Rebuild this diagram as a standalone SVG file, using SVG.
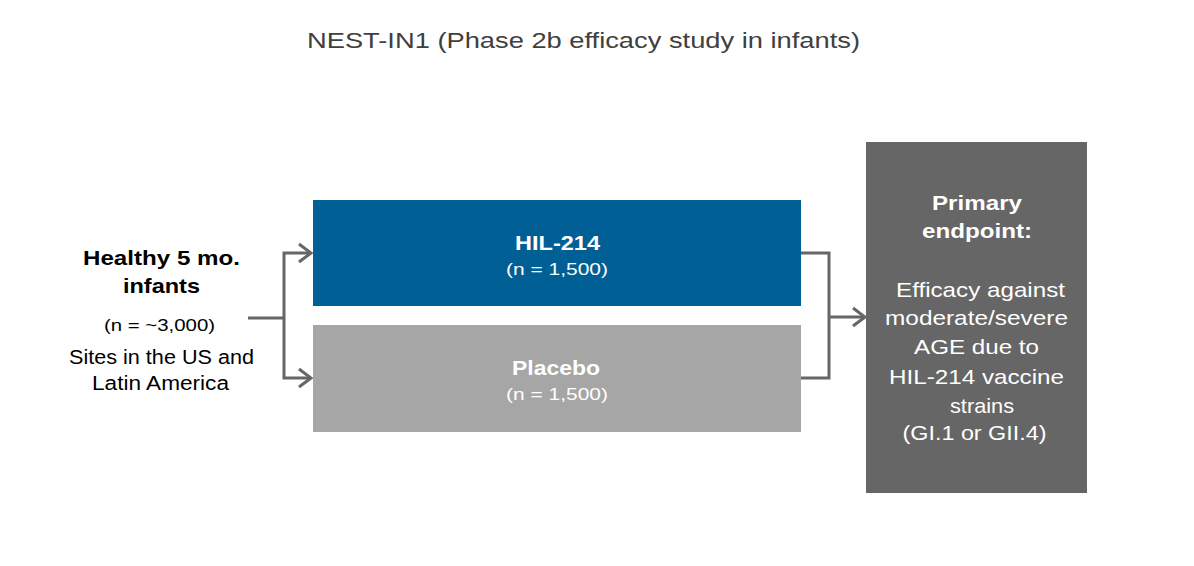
<svg xmlns="http://www.w3.org/2000/svg" width="1194" height="566" viewBox="0 0 1194 566">
  <style>
    text { font-family: "Liberation Sans", Arial, sans-serif; text-anchor: middle; }
    .title { font-size: 22px; fill: #404040; }
    .b21 { font-size: 21px; font-weight: bold; }
    .r21 { font-size: 21px; }
    .r20 { font-size: 20px; }
    .r17 { font-size: 17px; }
    .dark { fill: #000000; }
    .white { fill: #ffffff; }
    .conn { fill: none; stroke: #666666; stroke-width: 3; }
  </style>
  <defs>
    <marker id="chev" markerUnits="userSpaceOnUse" viewBox="-16 -12 18 24" markerWidth="18" markerHeight="24" refX="0" refY="0" orient="auto">
      <path d="M-12,-9 L0,0 L-12,9" fill="none" stroke="#666666" stroke-width="3"/>
    </marker>
  </defs>
  <rect width="1194" height="566" fill="#ffffff"/>

  <g id="title">
    <text class="title" x="583.5" y="48" textLength="553" lengthAdjust="spacingAndGlyphs">NEST-IN1 (Phase 2b efficacy study in infants)</text>
  </g>

  <g id="connectors">
    <path class="conn" d="M248,318 H284"/>
    <path class="conn" d="M284,318 V253 H311" marker-end="url(#chev)"/>
    <path class="conn" d="M284,318 V378 H311" marker-end="url(#chev)"/>
    <path class="conn" d="M801,253 H829 V378 H801"/>
    <path class="conn" d="M829,317 H865" marker-end="url(#chev)"/>
  </g>

  <g id="infants">
    <text class="b21 dark" x="161.5" y="265" textLength="157" lengthAdjust="spacingAndGlyphs">Healthy 5 mo.</text>
    <text class="b21 dark" x="161.5" y="293" textLength="77" lengthAdjust="spacingAndGlyphs">infants</text>
    <text class="r17 dark" x="159.5" y="331" textLength="111" lengthAdjust="spacingAndGlyphs">(n = ~3,000)</text>
    <text class="r20 dark" x="161.5" y="364" textLength="185" lengthAdjust="spacingAndGlyphs">Sites in the US and</text>
    <text class="r20 dark" x="160.5" y="390" textLength="137" lengthAdjust="spacingAndGlyphs">Latin America</text>
  </g>

  <g id="hil214">
    <rect x="313" y="200" width="488" height="106" fill="#005F94"/>
    <text class="b21 white" x="557.5" y="250" textLength="85" lengthAdjust="spacingAndGlyphs">HIL-214</text>
    <text class="r17 white" x="557" y="275" textLength="102" lengthAdjust="spacingAndGlyphs">(n = 1,500)</text>
  </g>

  <g id="placebo">
    <rect x="313" y="325" width="488" height="107" fill="#A6A6A6"/>
    <text class="b21 white" x="556" y="375" textLength="88" lengthAdjust="spacingAndGlyphs">Placebo</text>
    <text class="r17 white" x="557" y="400" textLength="102" lengthAdjust="spacingAndGlyphs">(n = 1,500)</text>
  </g>

  <g id="endpoint">
    <rect x="866" y="142" width="221" height="351" fill="#666666"/>
    <text class="b21 white" x="977" y="210" textLength="90" lengthAdjust="spacingAndGlyphs">Primary</text>
    <text class="b21 white" x="977" y="238" textLength="110" lengthAdjust="spacingAndGlyphs">endpoint:</text>
    <text class="r21 white" x="980.5" y="297" textLength="169" lengthAdjust="spacingAndGlyphs">Efficacy against</text>
    <text class="r21 white" x="976.5" y="325" textLength="183" lengthAdjust="spacingAndGlyphs">moderate/severe</text>
    <text class="r21 white" x="976.5" y="354" textLength="125" lengthAdjust="spacingAndGlyphs">AGE due to</text>
    <text class="r21 white" x="976.5" y="384" textLength="175" lengthAdjust="spacingAndGlyphs">HIL-214 vaccine</text>
    <text class="r21 white" x="982" y="413" textLength="64" lengthAdjust="spacingAndGlyphs">strains</text>
    <text class="r21 white" x="974.5" y="440" textLength="144" lengthAdjust="spacingAndGlyphs">(GI.1 or GII.4)</text>
  </g>
</svg>
